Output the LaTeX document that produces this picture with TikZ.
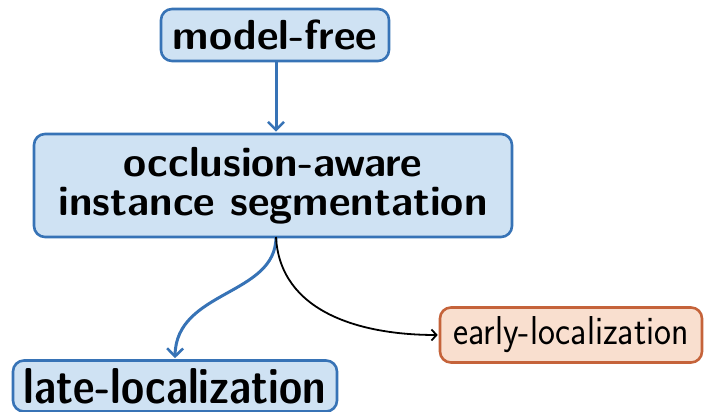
\documentclass[tikz,border=0pt]{standalone}
\usetikzlibrary{arrows.meta}
\definecolor{bluefill}{RGB}{207,226,243}
\definecolor{blueline}{RGB}{55,115,182}
\definecolor{orangefill}{RGB}{249,223,207}
\definecolor{orangeline}{RGB}{197,99,58}
\tikzset{
  boxbase/.style={line width=2.6pt, rounded corners=11pt, inner sep=0pt, align=center},
  bluebox/.style={boxbase, draw=blueline, fill=bluefill, font=\sffamily\bfseries\fontsize{42}{39}\selectfont},
  orangebox/.style={boxbase, draw=orangeline, fill=orangefill, font=\sffamily\fontsize{36}{40}\selectfont},
  bluearrow/.style={draw=blueline, line width=3pt, -{Straight Barb[length=8pt,width=16pt,line width=2.6pt]}},
  blackarrow/.style={draw=black, line width=1.8pt, -{Straight Barb[length=5pt,width=11pt,line width=1.8pt]}}
}
\begin{document}
\begin{tikzpicture}[x=1pt,y=1pt]
  \useasboundingbox (0,0) rectangle (705,412);
  \node[bluebox, minimum width=228pt, minimum height=52pt] (mf) at (275,377) {model-free};
  \node[bluebox, minimum width=478pt, minimum height=103pt] (oa) at (273,226.5)
    {occlusion-aware\\instance segmentation};
  \node[bluebox, minimum width=324pt, minimum height=51pt] (late) at (175,26)
    {\scalebox{1}[1.2]{late-localization}};
  \node[orangebox, minimum width=262pt, minimum height=55pt] (early) at (571,77)
    {\scalebox{1}[1.12]{early-localization}};
  \coordinate (fork) at (276,175);
  \draw[bluearrow] (mf.south -| fork) -- ([yshift=1pt]oa.north -| fork);
  \draw[bluearrow] (fork) .. controls (276,116) and (176,122) .. ([yshift=1pt]late.north);
  \draw[blackarrow] (fork) .. controls (280,100) and (360,77) .. ([xshift=-1pt]early.west);
\end{tikzpicture}
\end{document}
